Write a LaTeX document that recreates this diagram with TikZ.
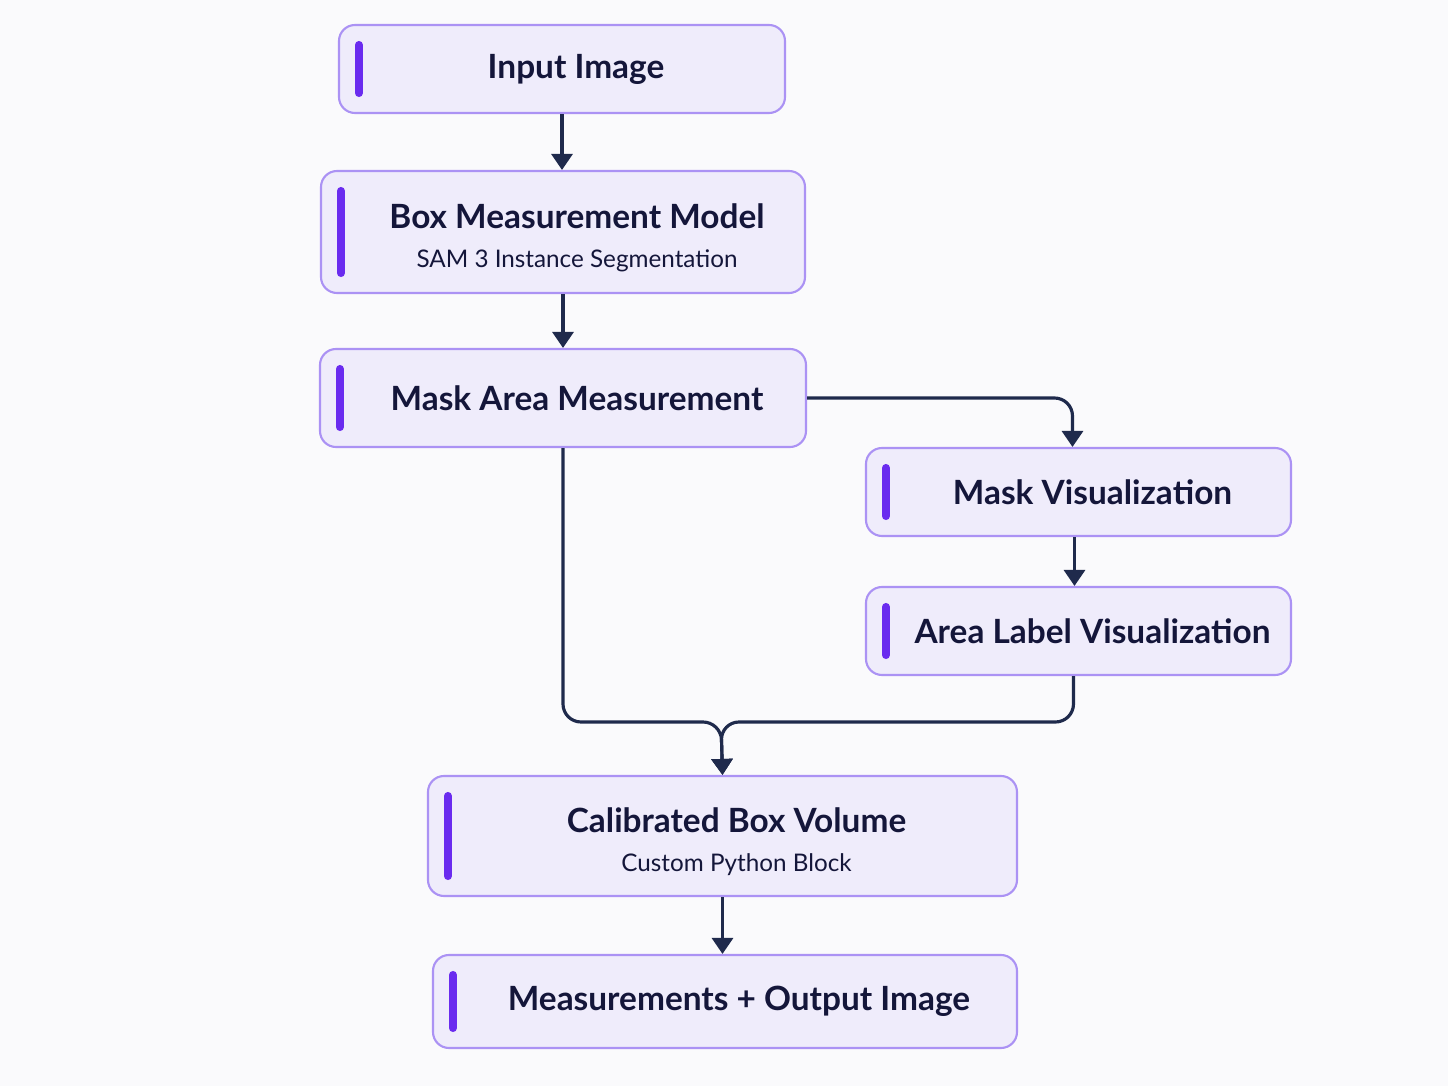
\documentclass[tikz,border=0pt]{standalone}
\usepackage{fontspec}
\setmainfont{Lato}
\usetikzlibrary{arrows.meta}
\definecolor{pagebg}{HTML}{FAFAFC}
\definecolor{boxfill}{HTML}{EFECFB}
\definecolor{boxline}{HTML}{AB92F4}
\definecolor{barviolet}{HTML}{6A2BEF}
\definecolor{inkblue}{HTML}{14163A}
\definecolor{flowblue}{HTML}{1F2A4C}

\tikzset{
	stage/.style={draw=boxline, fill=boxfill, line width=0.6pt, rounded corners=0.16cm, text=inkblue, align=center, inner sep=0pt},
	flow/.style={draw=flowblue, line width=0.9pt, -{Triangle[width=0.21cm,length=0.16cm]}, rounded corners=0.18cm},
	accent/.style={draw=barviolet, line width=0.08cm, line cap=round}
}
\newcommand{\ttl}[1]{\hspace*{0.28cm}{\fontsize{9.5}{11}\selectfont\bfseries #1}}
\newcommand{\subttl}[1]{\hspace*{0.28cm}{\fontsize{6.9}{8}\selectfont #1}}

\begin{document}
\begin{tikzpicture}
	\fill[pagebg] (0,0) rectangle (14.48,-10.86);
	\useasboundingbox (0,0) rectangle (14.48,-10.86);

	\node[stage, minimum width=4.46cm, minimum height=0.88cm] (input) at (5.62,-0.69) {\ttl{Input Image}};
	\node[stage, minimum width=4.84cm, minimum height=1.22cm] (model) at (5.63,-2.32) {\rule{0pt}{0.36cm}\ttl{Box Measurement Model}\\[-0.03cm]\subttl{SAM 3 Instance Segmentation}};
	\node[stage, minimum width=4.86cm, minimum height=0.98cm] (mask) at (5.63,-3.98) {\ttl{Mask Area Measurement}};
	\node[stage, minimum width=4.25cm, minimum height=0.88cm] (maskvis) at (10.785,-4.92) {\ttl{Mask Visualization}};
	\node[stage, minimum width=4.25cm, minimum height=0.88cm] (arealbl) at (10.785,-6.31) {\ttl{Area Label Visualization}};
	\node[stage, minimum width=5.89cm, minimum height=1.20cm] (volume) at (7.225,-8.36) {\rule{0pt}{0.36cm}\ttl{Calibrated Box Volume}\\[-0.03cm]\subttl{Custom Python Block}};
	\node[stage, minimum width=5.84cm, minimum height=0.93cm] (output) at (7.25,-10.015) {\ttl{Measurements + Output Image}};

	\foreach \n in {input,model,mask,maskvis,arealbl,volume,output}
		\draw[accent] ([xshift=0.21cm,yshift=-0.21cm]\n.north west) -- ([xshift=0.21cm,yshift=0.21cm]\n.south west);

	\coordinate (join) at (7.21,-7.22);

	\draw[flow] (input.south) -- (input.south |- model.north);
	\draw[flow] (model.south) -- (mask.north);
	\draw[flow] (mask.east) -| ([xshift=-0.06cm]maskvis.north);
	\draw[flow] ([xshift=-0.04cm]maskvis.south) -- ([xshift=-0.04cm]arealbl.north);
	\draw[flow] (mask.south) |- (join) -- (volume.north);
	\draw[flow] ([xshift=-0.05cm]arealbl.south) |- (join) -- (volume.north);
	\draw[flow] (volume.south) -- (volume.south |- output.north);
\end{tikzpicture}
\end{document}
